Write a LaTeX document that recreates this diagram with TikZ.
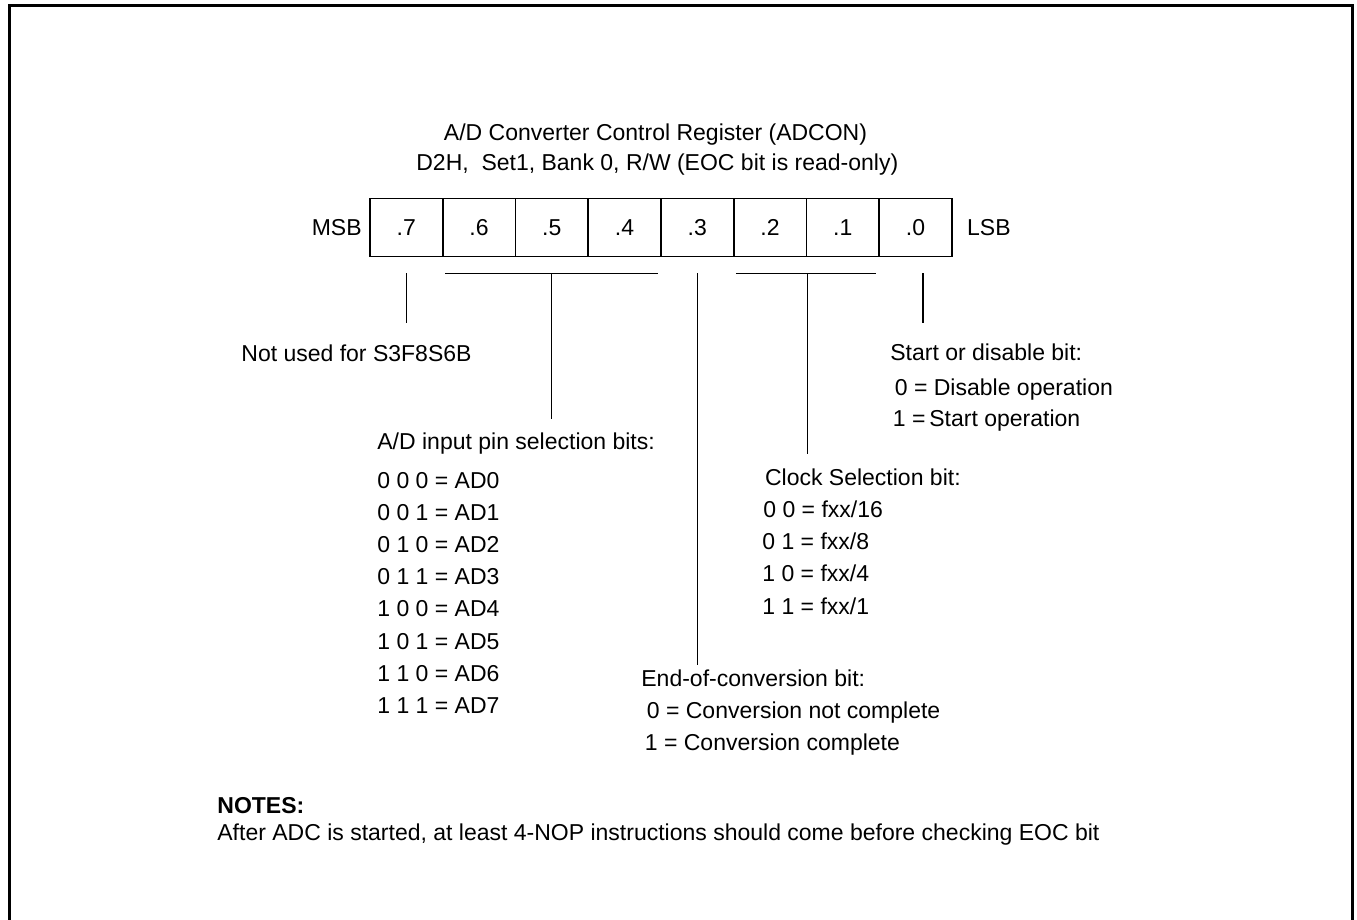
\documentclass[tikz,border=0pt]{standalone}
\usepackage{fontspec}
\setmainfont{Liberation Sans}
\usetikzlibrary{positioning, calc}
\tikzset{
    bitcell/.style = {draw, line width=0.9pt, minimum width=36.375pt,
                      minimum height=29pt, inner sep=0pt, anchor=north west},
    txt/.style = {anchor=base west, inner sep=0pt},
    ttl/.style = {anchor=base, inner sep=0pt},
    leader/.style = {line width=0.7pt},
}

\begin{document}
\begin{tikzpicture}[x=0.5pt, y=-0.5pt, font=\fontsize{11.5}{13.8}\selectfont]
        \useasboundingbox (0,0) rectangle (1357,920);
        % outer frame (runs off the bottom)
        \draw[line width=1.5pt] (9.5,920) -- (9.5,5.5) -- (1352.5,5.5) -- (1352.5,920);
        % title
        \node[ttl] (title) at (655.5,140.7) {A/D Converter Control Register (ADCON)};
        \node[ttl] (addr) at (657.3,170.7) {D2H,\ \ Set1, Bank 0, R/W (EOC bit is read-only)};
        % register cells
        \foreach \i in {0,...,7} {
            \pgfmathtruncatemacro{\bit}{7-\i}
            \node[bitcell] (b\bit) at (369+72.75*\i,197.7) {.\bit};
        }
        \node[left=3.5pt of b7, inner sep=0pt] (msb) {MSB};
        \node[right=7pt of b0, inner sep=0pt] (lsb) {LSB};
        % bit 7
        \draw[leader] ([yshift=-8pt]b7.south) -- ([yshift=-33pt]b7.south);
        \node[txt] (unused) at (241,361) {Not used for S3F8S6B};
        % bits 6-4
        \draw[leader] ([xshift=1.7pt,yshift=-8pt]b6.south west)
              -- ([xshift=-1.7pt,yshift=-8pt]b4.south east);
        \draw[leader] ([yshift=-8pt]b5.south) -- ([yshift=-80.7pt]b5.south);
        \node[txt] (pinhd) at (377,450) {A/D input pin selection bits:};
        \foreach \v [count=\k from 0] in {0 0 0,0 0 1,0 1 0,0 1 1,1 0 0,1 0 1,1 1 0,1 1 1} {
            \node[txt] (pin\k) at (377,488+32.2*\k) {\v\ = AD\k};
        }
        % bit 3
        \draw[leader] ([yshift=-8pt]b3.south) -- ([yshift=-203.5pt]b3.south);
        \node[txt] (eochd) at (641,686.5) {End-of-conversion bit:};
        \node[txt] (eoc0) at (646.5,718.5) {0 = Conversion not complete};
        \node[txt] (eoc1) at (644.5,750.7) {1 = Conversion complete};
        % bits 2-1
        \draw[leader] ([xshift=1.5pt,yshift=-8pt]b2.south west)
              -- ([xshift=-2pt,yshift=-8pt]b1.south east);
        \draw[leader] ([yshift=-8pt]b2.south east) -- ([yshift=-98pt]b2.south east);
        \node[txt] (clkhd) at (764.7,485) {Clock Selection bit:};
        \node[txt] (clk0) at (763,517.5) {0 0 = fxx/16};
        \node[txt] (clk1) at (762,549.7) {0 1 = fxx/8};
        \node[txt] (clk2) at (762,581.9) {1 0 = fxx/4};
        \node[txt] (clk3) at (762,614.1) {1 1 = fxx/1};
        % bit 0
        \draw[leader] ([xshift=3.7pt,yshift=-8pt]b0.south) -- ([xshift=3.7pt,yshift=-33pt]b0.south);
        \node[txt] (starthd) at (890,360) {Start or disable bit:};
        \node[txt] (start0) at (894.5,395.7) {0 = Disable operation};
        \node[txt] (start1) at (892.5,426) {1 =\,Start operation};
        % notes
        \node[txt, font=\fontsize{11.5}{13.8}\selectfont\bfseries] (notes) at (217,813.3) {NOTES:};
        \node[txt] (notetxt) at (217,840) {After ADC is started, at least 4-NOP instructions should come before checking EOC bit};
\end{tikzpicture}
\end{document}
